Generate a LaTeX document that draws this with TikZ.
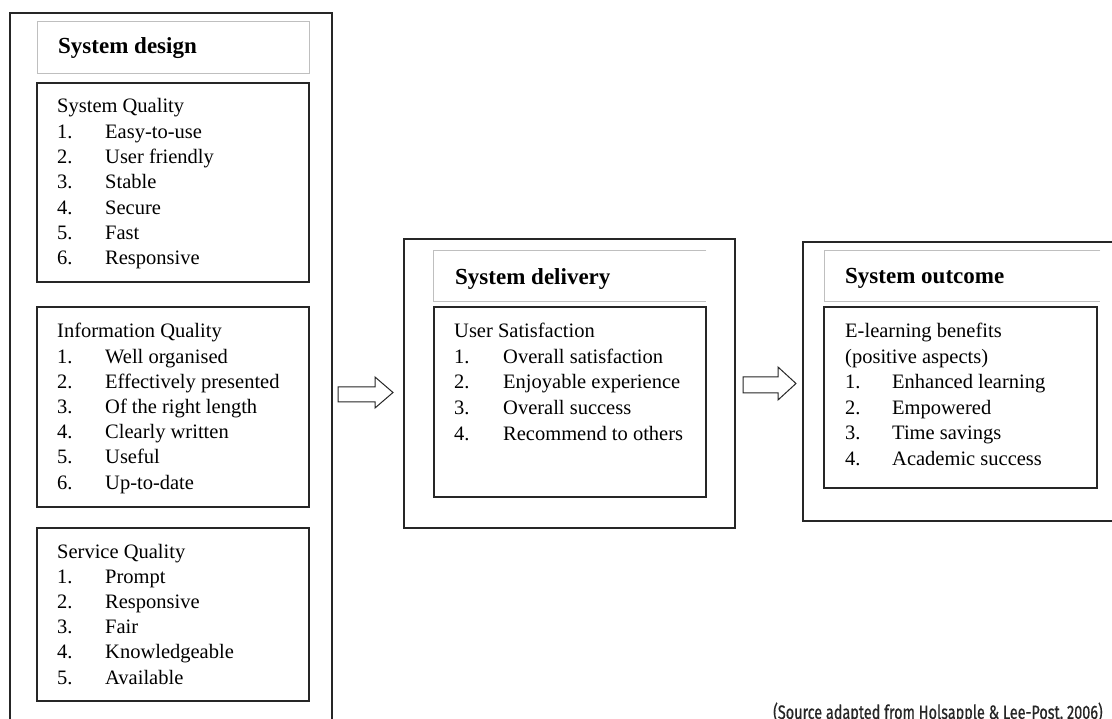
\documentclass[tikz,border=0pt]{standalone}
\usepackage{fontspec}
\setmainfont{Liberation Serif}
\newfontfamily\srcfont[FakeStretch=0.74,FakeBold=0.6]{Fira Sans}
\begin{document}
\begin{tikzpicture}[x=1pt,y=-1pt,
  outerbox/.style={draw=black!85,line width=1.5pt},
  titlebox/.style={draw=black!25,line width=1pt},
  inbox/.style={draw=black!85,line width=2pt},
  lst/.style={anchor=base west,inner sep=0pt,font=\fontsize{20.5pt}{25pt}\selectfont},
  head/.style={anchor=base west,inner sep=0pt,font=\fontsize{23pt}{27pt}\selectfont\bfseries},
  blockarrow/.style={draw=black!85,line width=1pt,fill=white}]
\useasboundingbox (0,0) rectangle (1112,719);
\fill[white] (0,0) rectangle (1112,719);

% outer boxes
\draw[outerbox] (10,13) rectangle (332,740);
\draw[outerbox] (404,239) rectangle (735,528);
\draw[outerbox] (803,242) rectangle (1130,521);

% title boxes
\draw[titlebox] (37,22) rectangle (309,74);
\draw[titlebox] (706,251) -- (433,251) -- (433,302) -- (706,302);
\draw[titlebox] (1100,251) -- (824,251) -- (824,302) -- (1100,302);

% inner boxes
\draw[inbox] (37,83) rectangle (309,282);
\draw[inbox] (37,307) rectangle (309,507);
\draw[inbox] (37,528) rectangle (309,701);
\draw[inbox] (434,307) rectangle (706,497);
\draw[inbox] (824,307) rectangle (1097,488);

% headings
\node[head] (hdesign) at (58,54) {System design};
\node[head] (hdelivery) at (455,285) {System delivery};
\node[head] (houtcome) at (845,284) {System outcome};

% System Quality
\node[lst] (sq) at (57,113) {System Quality};
\foreach \n/\t in {1/Easy-to-use,2/User friendly,3/Stable,4/Secure,5/Fast,6/Responsive}{
  \node[lst] (sqn\n) at (57,113+\n*25.3) {\n.};
  \node[lst] (sqt\n) at (105,113+\n*25.3) {\t};
}
% Information Quality
\node[lst] (iq) at (57,338) {Information Quality};
\foreach \n/\t in {1/Well organised,2/Effectively presented,3/Of the right length,4/Clearly written,5/Useful,6/Up-to-date}{
  \node[lst] (iqn\n) at (57,338+\n*25.2) {\n.};
  \node[lst] (iqt\n) at (105,338+\n*25.2) {\t};
}
% Service Quality
\node[lst] (svq) at (57,558) {Service Quality};
\foreach \n/\t in {1/Prompt,2/Responsive,3/Fair,4/Knowledgeable,5/Available}{
  \node[lst] (svn\n) at (57,558+\n*25.2) {\n.};
  \node[lst] (svt\n) at (105,558+\n*25.2) {\t};
}
% User Satisfaction
\node[lst] (us) at (454,338) {User Satisfaction};
\foreach \n/\t in {1/Overall satisfaction,2/Enjoyable experience,3/Overall success,4/Recommend to others}{
  \node[lst] (usn\n) at (454,338+\n*25.5) {\n.};
  \node[lst] (ust\n) at (503,338+\n*25.5) {\t};
}
% E-learning benefits
\node[lst] (eb) at (845,338) {E-learning benefits};
\node[lst] (eb2) at (845,363.4) {(positive aspects)};
\foreach \n/\t in {1/Enhanced learning,2/Empowered,3/Time savings,4/Academic success}{
  \node[lst] (ebn\n) at (845,363.4+\n*25.4) {\n.};
  \node[lst] (ebt\n) at (892,363.4+\n*25.4) {\t};
}

% block arrows
\draw[blockarrow] (338,387) -- (375,387) -- (375,377) -- (393,392.5) -- (375,408) -- (375,402) -- (338,402) -- cycle;
\draw[blockarrow] (743,377) -- (778,377) -- (778,367) -- (796,383.5) -- (778,400) -- (778,393) -- (743,393) -- cycle;

% source
\node[anchor=base west,inner sep=0pt,font=\srcfont\fontsize{19.5pt}{21pt}\selectfont,text=black!85] (src) at (773,719) {(Source adapted from Holsapple \& Lee-Post, 2006)};
\end{tikzpicture}
\end{document}
